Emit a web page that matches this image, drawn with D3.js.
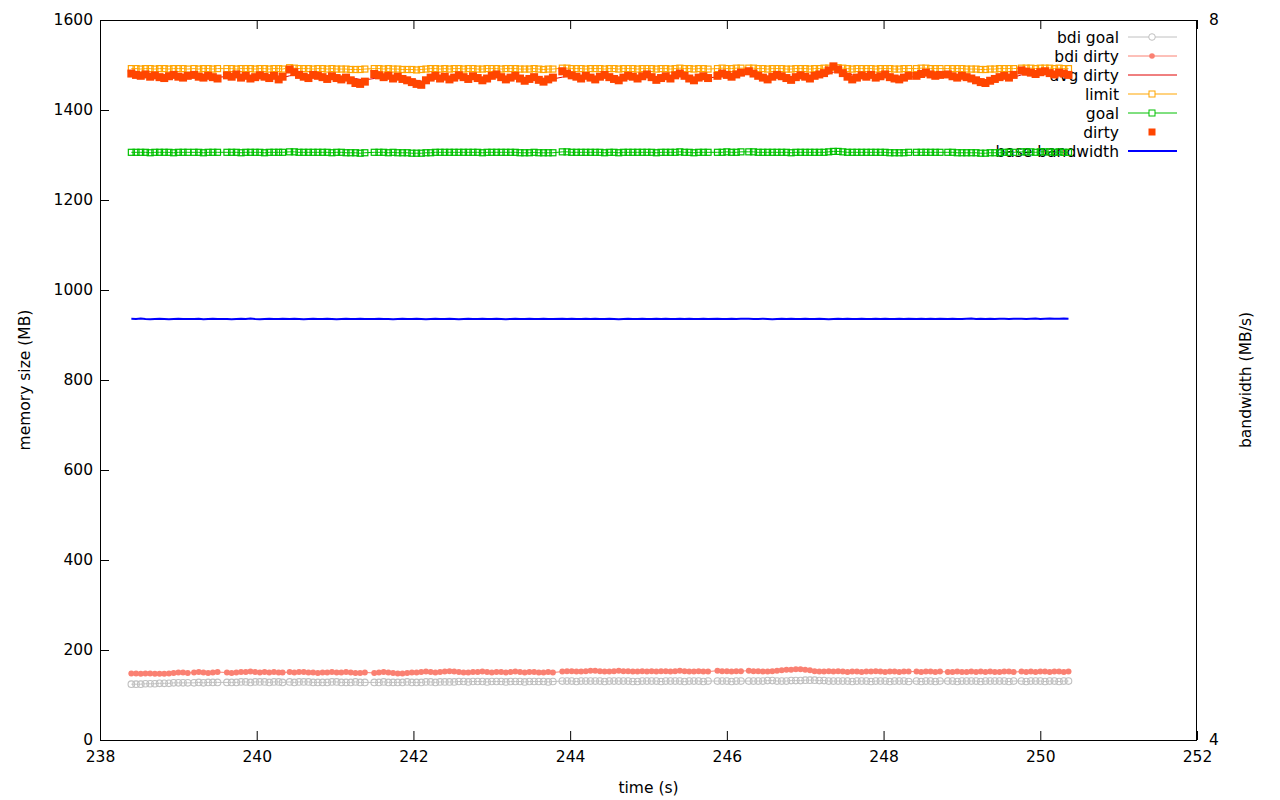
<!DOCTYPE html>
<html><head><meta charset="utf-8">
<script src="https://cdn.jsdelivr.net/npm/d3@7"></script>
<style>
body{margin:0;background:#fff;}
text{font-family:"DejaVu Sans",sans-serif;font-size:15.5px;fill:#000;}
</style></head><body>
<svg id="c" width="1280" height="800"></svg>
<script>
const xTicks=[238,240,242,244,246,248,250,252];
const yTicks=[0,200,400,600,800,1000,1200,1400,1600];
const y2Ticks=[4,8];
const legendNames=["bdi goal","bdi dirty","avg dirty","limit","goal","dirty","base bandwidth"];

const time=[238.40,238.46,238.52,238.58,238.64,238.70,238.76,238.82,238.88,238.94,239.00,239.06,239.12,
239.20,239.26,239.32,239.38,239.44,239.50,
239.62,239.68,239.74,239.80,239.86,239.92,239.98,240.04,240.10,240.16,240.22,240.28,240.33,
240.42,240.48,240.54,240.60,240.66,240.72,240.78,240.84,240.90,240.96,241.02,241.08,241.14,241.20,241.26,241.32,241.38,
241.50,241.56,241.62,241.68,241.74,241.80,241.86,241.92,241.98,242.04,242.10,242.16,242.22,242.28,242.34,242.40,242.46,242.52,242.58,242.64,242.70,242.76,242.82,242.88,242.94,243.00,243.06,243.12,243.18,243.24,243.30,243.36,243.42,243.48,243.54,243.60,243.66,243.72,243.78,
243.90,243.96,244.02,244.08,244.14,244.20,244.26,244.32,244.38,244.44,244.50,244.56,244.62,244.68,244.74,244.80,244.86,244.92,244.98,245.04,245.10,245.16,245.22,245.28,245.34,245.40,245.46,245.52,245.58,245.64,245.70,245.76,
245.88,245.94,246.00,246.06,246.12,246.18,
246.28,246.34,246.40,246.46,246.52,246.58,246.64,246.70,246.76,246.82,246.88,246.94,247.00,247.06,247.12,247.18,247.24,247.30,247.36,247.42,247.48,247.54,247.60,247.66,247.72,247.78,247.84,247.90,247.96,248.02,248.08,248.14,248.20,248.26,248.32,
248.42,248.48,248.54,248.60,248.66,248.72,
248.82,248.88,248.94,249.00,249.06,249.12,249.18,249.24,249.30,249.36,249.42,249.48,249.54,249.60,249.66,
249.76,249.82,249.88,249.94,250.00,250.06,250.12,250.18,250.24,250.30,250.36];

const dirty=[1481,1478,1476,1479,1474,1477,1473,1471,1475,1478,1474,1472,1476,
1478,1474,1472,1476,1473,1470,
1477,1474,1479,1472,1476,1470,1473,1477,1474,1471,1476,1468,1474,
1490,1484,1478,1474,1471,1478,1476,1473,1469,1475,1471,1468,1472,1466,1460,1458,1463,
1480,1477,1473,1476,1470,1474,1469,1466,1462,1458,1456,1466,1472,1476,1470,1474,1468,1472,1477,1473,1469,1475,1471,1466,1470,1476,1479,1473,1468,1472,1476,1470,1465,1469,1473,1467,1463,1468,1472,
1486,1481,1477,1474,1470,1476,1472,1468,1474,1478,1473,1469,1466,1472,1476,1474,1470,1475,1479,1473,1467,1471,1475,1470,1477,1481,1476,1470,1466,1472,1475,1471,
1476,1481,1478,1474,1479,1483,
1486,1481,1476,1472,1468,1474,1478,1475,1471,1467,1473,1477,1474,1470,1476,1479,1482,1488,1497,1490,1482,1474,1468,1472,1477,1474,1478,1472,1475,1479,1473,1470,1468,1472,1476,
1476,1480,1483,1479,1476,1478,
1479,1475,1472,1476,1473,1470,1466,1462,1460,1465,1469,1473,1476,1472,1478,
1488,1485,1483,1480,1484,1486,1482,1479,1483,1481,1478];

const avgDirty=[1479,1478,1478,1477,1477,1476,1476,1475,1475,1475,1475,1474,1474,
1475,1475,1474,1474,1474,1473,
1474,1474,1474,1474,1474,1473,1473,1474,1474,1473,1473,1472,1472,
1476,1478,1478,1477,1476,1476,1476,1475,1474,1474,1474,1473,1473,1472,1470,1468,1467,
1470,1471,1472,1472,1472,1472,1471,1470,1468,1466,1464,1465,1467,1469,1470,1471,1471,1471,1472,1472,1472,1472,1472,1471,1471,1472,1473,1473,1472,1472,1473,1472,1471,1470,1471,1470,1468,1468,1469,
1473,1475,1476,1475,1474,1474,1474,1473,1473,1474,1474,1473,1471,1471,1472,1473,1472,1473,1474,1474,1472,1472,1472,1472,1473,1475,1475,1474,1472,1472,1473,1472,
1473,1475,1476,1476,1477,1478,
1480,1480,1479,1477,1475,1475,1476,1476,1475,1473,1473,1474,1474,1473,1474,1475,1477,1480,1484,1486,1485,1482,1478,1476,1476,1475,1476,1475,1475,1476,1475,1474,1472,1472,1473,
1474,1476,1478,1478,1478,1478,
1478,1477,1476,1476,1475,1474,1472,1469,1467,1466,1467,1469,1471,1471,1473,
1478,1480,1481,1481,1482,1483,1483,1482,1482,1482,1481];

const limit=[1492,1492,1491,1492,1492,1491,1492,1492,1491,1492,1492,1492,1491,
1492,1491,1492,1492,1491,1492,
1492,1492,1491,1492,1492,1492,1491,1492,1492,1491,1492,1492,1491,
1494,1493,1492,1492,1492,1491,1492,1492,1491,1492,1491,1491,1491,1490,1490,1490,1491,
1492,1492,1491,1492,1491,1491,1490,1490,1490,1489,1490,1491,1492,1492,1491,1492,1491,1492,1492,1491,1492,1492,1491,1491,1492,1492,1492,1491,1492,1492,1492,1491,1491,1491,1492,1491,1490,1491,1491,
1493,1493,1492,1492,1492,1491,1492,1492,1492,1491,1492,1492,1491,1492,1492,1492,1491,1492,1492,1492,1491,1492,1492,1491,1492,1493,1492,1492,1491,1492,1492,1491,
1492,1493,1492,1492,1493,1493,
1493,1493,1492,1492,1491,1492,1492,1492,1491,1491,1492,1492,1492,1491,1492,1492,1493,1493,1495,1494,1493,1492,1491,1492,1492,1492,1492,1491,1492,1492,1492,1491,1491,1492,1492,
1492,1493,1493,1492,1492,1492,
1492,1492,1492,1492,1491,1491,1491,1490,1490,1491,1491,1492,1492,1492,1492,
1493,1493,1493,1492,1493,1493,1493,1492,1493,1492,1492];

const goal=[1306,1306,1306,1306,1305,1306,1306,1306,1306,1305,1306,1306,1306,
1306,1306,1305,1306,1306,1306,
1306,1306,1306,1305,1306,1306,1306,1306,1305,1306,1306,1306,1306,
1307,1307,1306,1306,1306,1306,1306,1306,1306,1305,1306,1306,1305,1305,1305,1304,1305,
1306,1306,1306,1305,1306,1305,1305,1305,1304,1304,1304,1305,1305,1306,1306,1306,1306,1306,1306,1306,1306,1306,1306,1305,1306,1306,1306,1306,1306,1306,1306,1305,1305,1305,1306,1305,1305,1305,1305,
1307,1307,1306,1306,1306,1306,1306,1306,1306,1305,1306,1306,1305,1306,1306,1306,1306,1306,1306,1306,1305,1306,1306,1306,1306,1307,1306,1306,1305,1306,1306,1306,
1306,1306,1307,1306,1306,1307,
1307,1307,1306,1306,1306,1306,1306,1306,1306,1305,1306,1306,1306,1306,1306,1306,1306,1307,1308,1308,1307,1306,1306,1306,1306,1306,1306,1306,1306,1306,1305,1305,1305,1305,1306,
1306,1306,1306,1306,1306,1306,
1306,1306,1305,1305,1305,1305,1305,1304,1304,1305,1305,1305,1306,1306,1306,
1307,1307,1307,1306,1307,1307,1307,1306,1307,1306,1306];

const bdiDirty=[148,148,147,148,148,147,147,147,148,149,150,150,149,
150,151,150,149,150,151,
150,149,150,151,151,152,151,150,151,150,151,150,150,
151,150,151,151,150,150,149,150,150,151,150,150,151,150,149,149,150,
149,150,151,150,149,148,148,149,150,150,151,152,151,150,151,152,153,152,151,150,150,151,151,152,151,150,151,151,150,151,152,151,150,151,151,150,150,151,150,
152,153,153,152,152,153,154,154,153,152,152,153,154,153,153,152,152,153,152,153,152,153,153,152,153,154,153,152,152,153,152,152,
154,153,153,152,153,153,
154,153,153,152,152,153,154,155,156,156,157,157,156,155,153,152,152,153,152,153,152,151,152,152,151,152,152,153,152,151,152,152,151,152,152,
152,151,152,152,151,152,
151,151,152,151,151,152,151,152,151,152,151,151,152,152,151,
152,151,152,151,152,152,151,152,152,151,152];

const bdiGoal=[124,124,124,125,125,125,126,126,126,127,127,127,127,
127,128,127,128,128,128,
128,128,128,129,129,128,129,129,129,128,129,129,128,
129,128,129,129,129,128,128,128,128,129,129,128,128,128,129,128,128,
128,128,129,128,128,128,128,129,128,128,128,129,129,128,129,129,129,129,130,130,129,130,130,130,129,130,130,130,129,130,130,130,129,130,130,130,130,129,130,
131,131,131,130,131,131,131,131,131,130,131,131,131,131,131,130,130,131,131,131,131,130,131,131,131,131,130,131,131,131,130,131,
131,131,131,130,131,131,
131,131,131,131,132,132,131,131,131,132,132,132,133,133,133,132,132,131,131,131,131,131,130,131,131,131,130,131,131,131,130,131,131,131,130,
131,130,131,131,130,131,
131,131,130,131,131,131,131,130,131,131,131,131,131,130,131,
131,130,131,131,131,130,131,131,130,131,131];

const bandwidth=[6.340,6.339,6.341,6.339,6.338,6.339,6.340,6.339,6.338,6.339,6.340,6.339,6.339,
6.339,6.340,6.338,6.339,6.340,6.339,
6.339,6.338,6.339,6.340,6.339,6.341,6.339,6.338,6.339,6.340,6.339,6.339,6.340,
6.339,6.340,6.339,6.338,6.339,6.340,6.339,6.339,6.340,6.339,6.338,6.339,6.340,6.339,6.339,6.340,6.339,
6.339,6.340,6.339,6.339,6.338,6.339,6.340,6.339,6.339,6.340,6.339,6.338,6.339,6.340,6.339,6.339,6.340,6.339,6.338,6.339,6.340,6.339,6.339,6.340,6.339,6.339,6.340,6.339,6.338,6.339,6.340,6.339,6.339,6.340,6.339,6.339,6.340,6.339,6.339,
6.340,6.339,6.340,6.339,6.339,6.340,6.339,6.340,6.339,6.339,6.340,6.339,6.338,6.339,6.340,6.339,6.339,6.340,6.339,6.339,6.340,6.339,6.340,6.339,6.339,6.340,6.339,6.340,6.339,6.339,6.340,6.339,
6.340,6.339,6.339,6.340,6.339,6.340,
6.340,6.339,6.339,6.340,6.339,6.338,6.339,6.340,6.339,6.340,6.339,6.339,6.340,6.339,6.339,6.340,6.339,6.338,6.339,6.340,6.339,6.340,6.339,6.339,6.340,6.339,6.339,6.340,6.339,6.340,6.339,6.339,6.340,6.339,6.340,
6.339,6.340,6.339,6.340,6.339,6.340,
6.339,6.340,6.339,6.339,6.340,6.341,6.339,6.340,6.339,6.340,6.339,6.340,6.340,6.339,6.340,
6.340,6.339,6.340,6.341,6.339,6.340,6.341,6.340,6.340,6.341,6.340];

const svg=d3.select("#c");
const L=100,R=1197,T=20,B=740;
const x=d3.scaleLinear().domain([238,252]).range([L,R]);
const y=d3.scaleLinear().domain([0,1600]).range([B,T]);
const y2=d3.scaleLinear().domain([4,8]).range([B,T]);
const fmt=d3.format("d");

function style(g){g.selectAll("path.domain").remove();g.selectAll("line").attr("stroke","#000");g.selectAll("text").style("font-size","15.5px").style("font-family","DejaVu Sans").attr("fill","#000");}

svg.append("g").attr("transform",`translate(${L},0)`).call(d3.axisLeft(y).tickValues(yTicks).tickFormat(fmt).tickSize(-9).tickSizeOuter(0).tickPadding(7)).call(style);
svg.append("g").attr("transform",`translate(0,${B})`).call(d3.axisBottom(x).tickValues(xTicks).tickFormat(fmt).tickSize(-9).tickSizeOuter(0).tickPadding(11)).call(style);
svg.append("g").attr("transform",`translate(0,${T})`).call(d3.axisTop(x).tickValues(xTicks).tickSize(-9).tickSizeOuter(0).tickFormat("")).call(style);
svg.append("g").attr("transform",`translate(${R},0)`).call(d3.axisRight(y2).tickValues(y2Ticks).tickFormat(fmt).tickSize(-9).tickSizeOuter(0).tickPadding(12)).call(style);

svg.append("rect").attr("x",L+0.5).attr("y",T+0.5).attr("width",R-L-1).attr("height",B-T).attr("fill","none").attr("stroke","#000");

svg.append("text").attr("transform",`translate(30,${(T+B)/2}) rotate(-90)`).attr("text-anchor","middle").text("memory size (MB)");
svg.append("text").attr("transform",`translate(1251,${(T+B)/2}) rotate(-90)`).attr("text-anchor","middle").text("bandwidth (MB/s)");
svg.append("text").attr("x",(L+R)/2).attr("y",793).attr("text-anchor","middle").text("time (s)");

const colors={bdiGoal:"#c0c0c0",bdiDirty:"#fa8072",avgDirty:"#e00000",limit:"#ffa500",goal:"#00c000",dirty:"#ff4500",bw:"#0000ff"};

const legY=[37,56,75,94,113,132,151];
const lg=svg.append("g");
legendNames.forEach((n,i)=>{
  lg.append("text").attr("x",1119).attr("y",legY[i]+5.5).attr("text-anchor","end").text(n);
});

const n=Math.min(time.length,dirty.length,avgDirty.length,limit.length,goal.length,bdiDirty.length,bdiGoal.length,bandwidth.length);
const idx=d3.range(n);
function linePath(vals,sy){return d3.line().x(i=>x(time[i])).y(i=>sy(vals[i]))(idx);}

svg.append("path").attr("d",linePath(bdiGoal,y)).attr("fill","none").attr("stroke",colors.bdiGoal).attr("stroke-width",1);
svg.append("g").selectAll("circle").data(idx).join("circle").attr("cx",i=>x(time[i])).attr("cy",i=>y(bdiGoal[i])).attr("r",3.3).attr("fill","none").attr("stroke",colors.bdiGoal).attr("stroke-width",1.1);
svg.append("path").attr("d",linePath(bdiDirty,y)).attr("fill","none").attr("stroke",colors.bdiDirty).attr("stroke-width",1);
svg.append("g").selectAll("circle").data(idx).join("circle").attr("cx",i=>x(time[i])).attr("cy",i=>y(bdiDirty[i])).attr("r",3).attr("fill",colors.bdiDirty);
svg.append("path").attr("d",linePath(avgDirty,y)).attr("fill","none").attr("stroke",colors.avgDirty).attr("stroke-width",1);
svg.append("path").attr("d",linePath(limit,y)).attr("fill","none").attr("stroke",colors.limit).attr("stroke-width",1);
svg.append("g").selectAll("rect").data(idx).join("rect").attr("x",i=>x(time[i])-3).attr("y",i=>y(limit[i])-3).attr("width",6).attr("height",6).attr("fill","none").attr("stroke",colors.limit).attr("stroke-width",1.2);
svg.append("path").attr("d",linePath(goal,y)).attr("fill","none").attr("stroke",colors.goal).attr("stroke-width",1);
svg.append("g").selectAll("rect").data(idx).join("rect").attr("x",i=>x(time[i])-3).attr("y",i=>y(goal[i])-3).attr("width",6).attr("height",6).attr("fill","none").attr("stroke",colors.goal).attr("stroke-width",1.2);
svg.append("g").selectAll("rect").data(idx).join("rect").attr("x",i=>x(time[i])-4).attr("y",i=>y(dirty[i])-4).attr("width",8).attr("height",8).attr("fill",colors.dirty);
svg.append("path").attr("d",linePath(bandwidth,y2)).attr("fill","none").attr("stroke",colors.bw).attr("stroke-width",2);

const sx0=1128,sx1=1177,sm=1152;
const sampleColors=[colors.bdiGoal,colors.bdiDirty,colors.avgDirty,colors.limit,colors.goal,null,colors.bw];
sampleColors.forEach((c,i)=>{
  if(c) lg.append("line").attr("x1",sx0).attr("x2",sx1).attr("y1",legY[i]).attr("y2",legY[i]).attr("stroke",c).attr("stroke-width",i===6?2:1);
});
lg.append("circle").attr("cx",sm).attr("cy",legY[0]).attr("r",3.3).attr("fill","#fff").attr("stroke",colors.bdiGoal);
lg.append("circle").attr("cx",sm).attr("cy",legY[1]).attr("r",2.8).attr("fill",colors.bdiDirty);
lg.append("rect").attr("x",sm-3).attr("y",legY[3]-3).attr("width",6).attr("height",6).attr("fill","#fff").attr("stroke",colors.limit);
lg.append("rect").attr("x",sm-3).attr("y",legY[4]-3).attr("width",6).attr("height",6).attr("fill","#fff").attr("stroke",colors.goal);
lg.append("rect").attr("x",sm-3.5).attr("y",legY[5]-3.5).attr("width",7).attr("height",7).attr("fill",colors.dirty);
</script></body></html>
